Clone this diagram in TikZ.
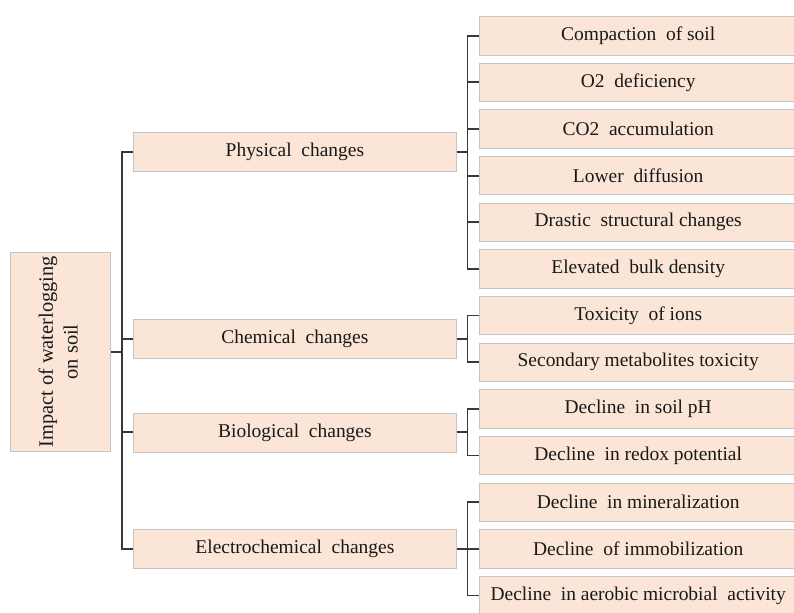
\documentclass[tikz,border=0pt]{standalone}
\usepackage{fontspec}
\setmainfont{Liberation Serif}
\definecolor{boxfill}{HTML}{FBE5D6}
\definecolor{boxline}{HTML}{C4C4C4}
\definecolor{conn}{HTML}{383838}
\begin{document}
\begin{tikzpicture}[x=0.75pt,y=-0.75pt,
  box/.style={draw=boxline,line width=0.6pt,fill=boxfill,inner sep=0pt,
    font=\fontsize{14.6}{18}\selectfont,text=black!90,anchor=north west},
  midbox/.style={box,minimum width={323*0.75pt},minimum height={39*0.75pt}},
  leafbox/.style={box,minimum width={317*0.75pt},minimum height={38.5*0.75pt}},
  link/.style={draw=conn,line width=1.4pt}]
\useasboundingbox (0,0) rectangle (794,612);
% root
\node[box,minimum width={100*0.75pt},minimum height={199*0.75pt},
  font=\fontsize{15.3}{18.5}\selectfont] (root) at (10,252)
  {\rotatebox{90}{\begin{tabular}{@{}c@{}}Impact of waterlogging\\on soil\end{tabular}}};
% level 2
\node[midbox] (phys) at (133,132) {Physical\ \ changes};
\node[midbox] (chem) at (133,319) {Chemical\ \ changes};
\node[midbox] (bio)  at (133,412.5) {Biological\ \ changes};
\node[midbox] (elec) at (133,529) {Electrochemical\ \ changes};
% leaves
\node[leafbox] (l1)  at (479.3,16)     {Compaction\ \ of soil};
\node[leafbox] (l2)  at (479.3,62.65)  {O2\ \ deficiency};
\node[leafbox] (l3)  at (479.3,109.3)  {CO2\ \ accumulation};
\node[leafbox] (l4)  at (479.3,155.95) {Lower\ \ diffusion};
\node[leafbox] (l5)  at (479.3,202.6)  {Drastic\ \ structural changes};
\node[leafbox] (l6)  at (479.3,249.25) {Elevated\ \ bulk density};
\node[leafbox] (l7)  at (479.3,295.9)  {Toxicity\ \ of ions};
\node[leafbox] (l8)  at (479.3,342.55) {Secondary metabolites toxicity};
\node[leafbox] (l9)  at (479.3,389.2)  {Decline\ \ in soil pH};
\node[leafbox] (l10) at (479.3,435.85) {Decline\ \ in redox potential};
\node[leafbox] (l11) at (479.3,482.5)  {Decline\ \ in mineralization};
\node[leafbox] (l12) at (479.3,529.15) {Decline\ \ of immobilization};
\node[leafbox] (l13) at (479.3,575.8)  {Decline\ \ in aerobic microbial\ \ activity};
% connector columns
\coordinate (trunk) at (122,0);
\coordinate (bus) at (467.5,0);
% root to level 2
\draw[link] (root.east) -- (root.east -| trunk);
\draw[link] (phys.west) -- (phys.west -| trunk) -- (elec.west -| trunk) -- (elec.west);
\draw[link] (chem.west) -- (chem.west -| trunk);
\draw[link] (bio.west) -- (bio.west -| trunk);
% physical
\draw[link] (phys.east) -- (phys.east -| bus);
\draw[link] (l1.west) -- (l1.west -| bus) -- (l6.west -| bus) -- (l6.west);
\foreach \n in {l2,l3,l4,l5} \draw[link] (\n.west) -- (\n.west -| bus);
% chemical
\draw[link] (chem.east) -- (chem.east -| bus);
\draw[link] (l7.west) -- (l7.west -| bus) -- (l8.west -| bus) -- (l8.west);
% biological
\draw[link] (bio.east) -- (bio.east -| bus);
\draw[link] (l9.west) -- (l9.west -| bus) -- (l10.west -| bus) -- (l10.west);
% electrochemical
\draw[link] (elec.east) -- (elec.east -| bus);
\draw[link] (l11.west) -- (l11.west -| bus) -- (l13.west -| bus) -- (l13.west);
\draw[link] (l12.west) -- (l12.west -| bus);
\end{tikzpicture}
\end{document}
